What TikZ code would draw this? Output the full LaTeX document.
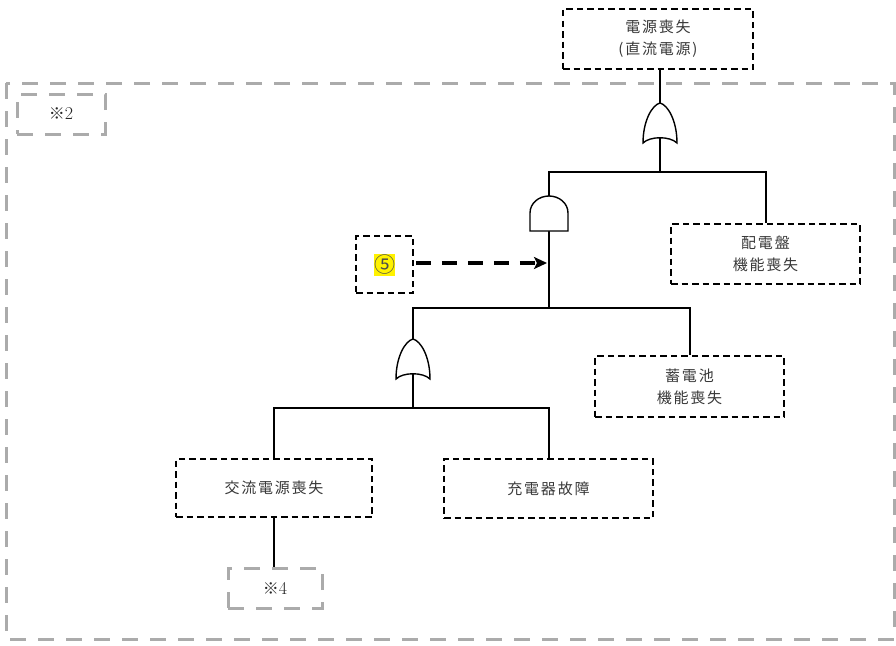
\documentclass[tikz,border=0pt]{standalone}
\usepackage{fontspec}
\newfontfamily\jp[LetterSpace=12]{Noto Sans CJK JP}
\newfontfamily\jpn{Noto Sans CJK JP}
\usetikzlibrary{arrows.meta}
\tikzset{
  evbox/.style={draw=black, line width=1.8pt, dash pattern=on 6.5pt off 4pt, inner sep=0pt,
    font=\jp\fontsize{15}{22}\selectfont, text=black!78, align=center},
  graybox/.style={draw=black!33, line width=3pt, dash pattern=on 16pt off 12pt, inner sep=0pt,
    font=\fontsize{18}{20}\selectfont, text=black!85},
  wire/.style={line width=2pt},
  gate/.style={line width=1.4pt, fill=white},
  orgate/.pic={\draw[gate] (0,0) .. controls (8,2) and (17,18) .. (17,40)
      .. controls (10,33) and (-10,33) .. (-17,40) .. controls (-17,18) and (-8,2) .. cycle;},
  andgate/.pic={\draw[gate] (-19,35) -- (-19,17) .. controls (-19,7) and (-10,0) .. (0,0)
      .. controls (10,0) and (19,7) .. (19,17) -- (19,35) -- cycle;},
  darrow/.style={line width=3.2pt, dash pattern=on 15pt off 11pt,
    -{Stealth[length=13pt,width=12pt,inset=3pt]}}
}
\begin{document}
\begin{tikzpicture}[x=1pt,y=-1pt]
\useasboundingbox (0,0) rectangle (896,645);
% outer frame
\draw[draw=black!33, line width=3pt, dash pattern=on 16pt off 12pt] (6,83) rectangle (894,639);
% boxes
\node[graybox, minimum width=88, minimum height=40] (s2) at (61,114) {{\jpn\fontsize{16}{16}\selectfont ※}2};
\node[evbox, minimum width=190, minimum height=60] (top) at (658,39) {電源喪失\\(直流電源)};
\node[evbox, minimum width=189, minimum height=60] (pan) at (765.5,254) {配電盤\\機能喪失};
\node[evbox, minimum width=189, minimum height=61] (bat) at (689.5,386.5) {蓄電池\\機能喪失};
\node[evbox, minimum width=196, minimum height=58] (ac) at (274,488) {交流電源喪失};
\node[evbox, minimum width=209, minimum height=59] (chg) at (548.5,488.5) {充電器故障};
\node[graybox, minimum width=94, minimum height=40] (s4) at (275,588) {{\jpn\fontsize{16}{16}\selectfont ※}4};
\node[evbox, minimum width=57, minimum height=57] (n5) at (384.5,264.5) {};
\node[fill=yellow, inner sep=0pt, minimum width=18, minimum height=22,
  font=\jpn\fontsize{21}{21}\selectfont, text=black!70] (c5) at (n5.center) {⑤};
% coordinates
\coordinate (or1t) at (660,103);
\coordinate (or1b) at (660,136);
\coordinate (j1) at (660,172);
\coordinate (and1t) at (549,196);
\coordinate (and1b) at (549,231);
\coordinate (j2) at (549,308);
\coordinate (or2t) at (413,339);
\coordinate (or2b) at (413,373);
\coordinate (j3) at (413,408);
\coordinate (a5) at (547,263);
% wires
\draw[wire] (top.south -| or1t) -- (or1t);
\draw[wire] (or1b) -- (j1);
\draw[wire] (and1t) |- (j1) -| (pan.north);
\draw[wire] (and1b) -- (j2);
\draw[wire] (or2t) |- (j2) -| (bat.north);
\draw[wire] (or2b) -- (j3);
\draw[wire] (ac.north) |- (j3) -| (chg.north);
\draw[wire] (ac.south) -- (ac.south |- s4.north);
% gates
\pic at (or1t) {orgate};
\pic at (and1t) {andgate};
\pic at (or2t) {orgate};
% dashed arrow
\draw[darrow] (n5.east) ++(2,-1.5) -- (a5);
\end{tikzpicture}
\end{document}
